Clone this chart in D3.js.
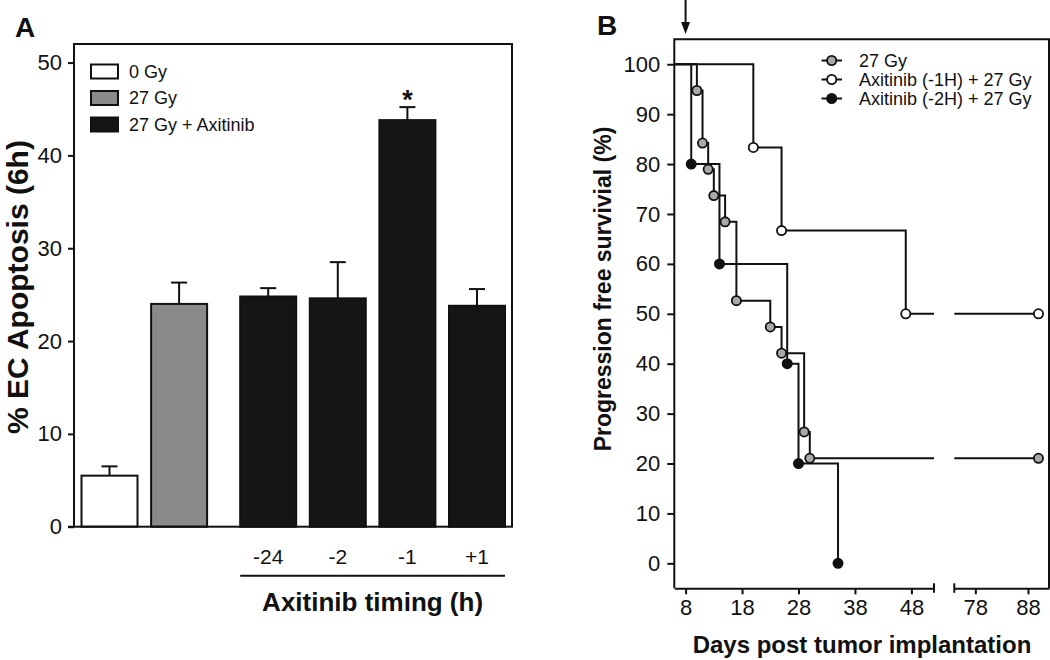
<!DOCTYPE html>
<html><head><meta charset="utf-8">
<script src="https://cdn.jsdelivr.net/npm/d3@7"></script>
<style>
body{margin:0;background:#fff;}
svg text{font-family:"Liberation Sans",Arial,Helvetica,sans-serif;fill:#111;}
</style>
</head><body>
<svg id="chart" width="1050" height="660"></svg>
<script>
// ---------- Panel A data ----------
const barCategories = ["0 Gy", "27 Gy", "-24", "-2", "-1", "+1"];
const barGroups = ["0 Gy", "27 Gy", "27 Gy + Axitinib", "27 Gy + Axitinib", "27 Gy + Axitinib", "27 Gy + Axitinib"];
const barValues = [5.5, 24.0, 24.8, 24.6, 43.8, 23.8];
const barErrors = [1.0, 2.3, 0.9, 3.9, 1.4, 1.8];
const barSignificant = [false, false, false, false, true, false];
const timingLabels = ["-24", "-2", "-1", "+1"];
const legendA = ["0 Gy", "27 Gy", "27 Gy + Axitinib"];
const yTicksA = [0, 10, 20, 30, 40, 50];

// ---------- Panel B data ----------
const seriesNames = ["27 Gy", "Axitinib (-1H) + 27 Gy", "Axitinib (-2H) + 27 Gy"];
const gy27Days = [10, 11, 12, 13, 15, 17, 23, 25, 29, 30];
const gy27Surv = [94.74, 84.21, 78.95, 73.68, 68.42, 52.63, 47.37, 42.11, 26.32, 21.05];
const ax1Days = [20, 25, 47];
const ax1Surv = [83.33, 66.67, 50];
const ax2Days = [9, 14, 26, 28, 35];
const ax2Surv = [80, 60, 40, 20, 0];
const censorDays = [90, 90, null];
const yTicksB = [0, 10, 20, 30, 40, 50, 60, 70, 80, 90, 100];
const xTicksB1 = [8, 18, 28, 38, 48];
const xTicksB2 = [78, 88];
const treatmentDay = 8;

const svg = d3.select("#chart");
const FONT = '"Liberation Sans",Arial,Helvetica,sans-serif';
const colorA = {"0 Gy": "#ffffff", "27 Gy": "#8a8a8a", "27 Gy + Axitinib": "#151515"};

// ================= PANEL A =================
const A = {left: 74, right: 512, top: 44, bottom: 526.7};
const yA = d3.scaleLinear().domain([0, 52]).range([A.bottom, A.top]);
const groupGap = 0.28;
const slot = i => i + (i >= 2 ? groupGap : 0);
const xA = d3.scaleLinear().domain([0, 5 + groupGap]).range([109.5, 477]);
const barW = 56;

const gA = svg.append("g");

const bars = barCategories.map((c, i) => ({c, i, g: barGroups[i], v: barValues[i], e: barErrors[i], sig: barSignificant[i]}));
gA.selectAll(".err").data(bars).join("g").each(function(d) {
  const g = d3.select(this), cx = xA(slot(d.i));
  g.append("line").attr("x1", cx).attr("x2", cx).attr("y1", yA(d.v)).attr("y2", yA(d.v + d.e))
    .attr("stroke", "#111").attr("stroke-width", 2);
  g.append("line").attr("x1", cx - 8).attr("x2", cx + 8).attr("y1", yA(d.v + d.e)).attr("y2", yA(d.v + d.e))
    .attr("stroke", "#111").attr("stroke-width", 2);
  if (d.sig) g.append("text").attr("x", cx).attr("y", yA(d.v + d.e) + 2).attr("text-anchor", "middle")
    .attr("font-size", 27).attr("font-weight", "bold").text("*");
});
gA.selectAll(".bar").data(bars).join("rect")
  .attr("x", d => xA(slot(d.i)) - barW / 2).attr("width", barW)
  .attr("y", d => yA(d.v)).attr("height", d => yA(0) - yA(d.v))
  .attr("fill", d => colorA[d.g]).attr("stroke", "#111").attr("stroke-width", 2);

gA.append("rect").attr("x", A.left).attr("y", A.top).attr("width", A.right - A.left).attr("height", A.bottom - A.top)
  .attr("fill", "none").attr("stroke", "#111").attr("stroke-width", 2);

const axA = gA.append("g").attr("transform", `translate(${A.left},0)`)
  .call(d3.axisLeft(yA).tickValues(yTicksA).tickSize(6).tickPadding(6));
axA.select(".domain").remove();
axA.selectAll("line").attr("stroke", "#111").attr("stroke-width", 2);
axA.selectAll("text").attr("font-size", 22).attr("font-family", FONT).attr("fill", "#111");
gA.append("line").attr("x1", A.left - 6).attr("x2", A.left).attr("y1", A.bottom).attr("y2", A.bottom)
  .attr("stroke", "#111").attr("stroke-width", 2);

gA.append("text").attr("transform", `translate(17,287) rotate(-90)`)
  .attr("text-anchor", "middle").attr("dominant-baseline", "central")
  .attr("font-size", 30).attr("font-weight", "bold").text("% EC Apoptosis (6h)");

timingLabels.forEach((t, k) => {
  gA.append("text").attr("x", xA(slot(k + 2))).attr("y", 564).attr("text-anchor", "middle")
    .attr("font-size", 21).text(t);
});
gA.append("line").attr("x1", xA(slot(2)) - barW / 2).attr("x2", xA(slot(5)) + barW / 2)
  .attr("y1", 575.7).attr("y2", 575.7).attr("stroke", "#111").attr("stroke-width", 2);
gA.append("text").attr("x", (xA(slot(2)) + xA(slot(5))) / 2).attr("y", 611).attr("text-anchor", "middle")
  .attr("font-size", 26).attr("font-weight", "bold").text("Axitinib timing (h)");

legendA.forEach((name, k) => {
  const cy = 71.5 + k * 26.5;
  gA.append("rect").attr("x", 91).attr("y", cy - 7).attr("width", 27).attr("height", 14)
    .attr("fill", colorA[name]).attr("stroke", "#111").attr("stroke-width", 2);
  gA.append("text").attr("x", 129).attr("y", cy).attr("dy", "0.36em").attr("font-size", 18).text(name);
});

svg.append("text").attr("x", 15).attr("y", 37).attr("font-size", 28).attr("font-weight", "bold").text("A");

// ================= PANEL B =================
const B = {left: 674.3, right: 1049, top: 39.3, bottom: 588.3, breakL: 934, breakR: 954.3};
const yB = d3.scaleLinear().domain([-5, 105]).range([B.bottom, B.top]);
const xB1 = d3.scaleLinear().domain([6, 52]).range([B.left, B.breakL]);
const xB2 = d3.scaleLinear().domain([74, 92]).range([B.breakR, B.right]);
const gB = svg.append("g");

gB.append("path").attr("d", `M${B.left},${B.bottom}V${B.top}H${B.right}V${B.bottom}`)
  .attr("fill", "none").attr("stroke", "#111").attr("stroke-width", 2);

const axBy = gB.append("g").attr("transform", `translate(${B.left},0)`)
  .call(d3.axisLeft(yB).tickValues(yTicksB).tickSize(7).tickPadding(7));
axBy.select(".domain").remove();
axBy.selectAll("line").attr("stroke", "#111").attr("stroke-width", 2);
axBy.selectAll("text").attr("font-size", 22).attr("font-family", FONT).attr("fill", "#111");

function styleX(ax) {
  ax.select(".domain").attr("stroke", "#111").attr("stroke-width", 2);
  ax.selectAll("line").attr("stroke", "#111").attr("stroke-width", 2);
  ax.selectAll("text").attr("font-size", 22).attr("font-family", FONT).attr("fill", "#111");
}
const axB1 = gB.append("g").attr("transform", `translate(0,${B.bottom})`)
  .call(d3.axisBottom(xB1).tickValues(xTicksB1).tickSize(6).tickSizeOuter(0).tickPadding(5));
styleX(axB1);
const axB2 = gB.append("g").attr("transform", `translate(0,${B.bottom})`)
  .call(d3.axisBottom(xB2).tickValues(xTicksB2).tickSize(6).tickSizeOuter(0).tickPadding(5));
styleX(axB2);
[B.breakL, B.breakR].forEach(x => gB.append("line").attr("x1", x).attr("x2", x)
  .attr("y1", B.bottom - 5).attr("y2", B.bottom + 4.5).attr("stroke", "#111").attr("stroke-width", 2));

gB.append("text").attr("x", 862).attr("y", 653).attr("text-anchor", "middle")
  .attr("font-size", 24).attr("font-weight", "bold").text("Days post tumor implantation");
gB.append("text").attr("transform", `translate(603,289) rotate(-90)`)
  .attr("text-anchor", "middle").attr("dominant-baseline", "central")
  .attr("font-size", 23).attr("font-weight", "bold").text("Progression free survivial (%)");

const ax8 = xB1(treatmentDay);
gB.append("line").attr("x1", ax8).attr("x2", ax8).attr("y1", 0).attr("y2", 26).attr("stroke", "#111").attr("stroke-width", 2);
gB.append("path").attr("d", `M${ax8 - 4.5},22L${ax8 + 4.5},22L${ax8},34Z`).attr("fill", "#111");

const series = [
  {name: seriesNames[0], days: gy27Days, surv: gy27Surv, censor: censorDays[0], fill: "#a9a9a9"},
  {name: seriesNames[1], days: ax1Days, surv: ax1Surv, censor: censorDays[1], fill: "#ffffff"},
  {name: seriesNames[2], days: ax2Days, surv: ax2Surv, censor: censorDays[2], fill: "#111111"}
];
const startDay = xB1.domain()[0];
const gapStart = xB1.domain()[1], gapEnd = xB2.domain()[0];
const lineB1 = d3.line().x(d => xB1(d[0])).y(d => yB(d[1]));
const lineB2 = d3.line().x(d => xB2(d[0])).y(d => yB(d[1]));

series.forEach(s => {
  const v = [[startDay, 100]];
  let cur = 100;
  s.days.forEach((t, i) => { v.push([t, cur]); v.push([t, s.surv[i]]); cur = s.surv[i]; });
  if (s.censor) v.push([s.censor, cur]);
  const seg1 = v.filter(d => d[0] <= gapStart);
  const last = v[v.length - 1];
  if (last[0] > gapStart) seg1.push([gapStart, seg1[seg1.length - 1][1]]);
  gB.append("path").attr("d", lineB1(seg1)).attr("fill", "none").attr("stroke", "#111").attr("stroke-width", 2);
  if (last[0] >= gapEnd) {
    const before = v.filter(d => d[0] < gapEnd);
    const seg2 = [[gapEnd, before[before.length - 1][1]]].concat(v.filter(d => d[0] >= gapEnd));
    gB.append("path").attr("d", lineB2(seg2)).attr("fill", "none").attr("stroke", "#111").attr("stroke-width", 2);
  }
});
series.forEach(s => {
  const pts = s.days.map((t, i) => [t, s.surv[i]]);
  if (s.censor) pts.push([s.censor, s.surv[s.surv.length - 1]]);
  gB.selectAll(null).data(pts).join("circle")
    .attr("cx", d => d[0] <= gapStart ? xB1(d[0]) : xB2(d[0])).attr("cy", d => yB(d[1]))
    .attr("r", 4.6).attr("fill", s.fill).attr("stroke", "#111").attr("stroke-width", 1.8);
});

series.forEach((s, k) => {
  const cy = 60.5 + k * 19;
  gB.append("line").attr("x1", 821.5).attr("x2", 842).attr("y1", cy).attr("y2", cy).attr("stroke", "#111").attr("stroke-width", 2);
  gB.append("circle").attr("cx", 831.7).attr("cy", cy).attr("r", 4.6).attr("fill", s.fill).attr("stroke", "#111").attr("stroke-width", 1.8);
  gB.append("text").attr("x", 859).attr("y", cy).attr("dy", "0.36em").attr("font-size", 18).text(s.name);
});

svg.append("text").attr("x", 597).attr("y", 35).attr("font-size", 28).attr("font-weight", "bold").text("B");
</script>
</body></html>
